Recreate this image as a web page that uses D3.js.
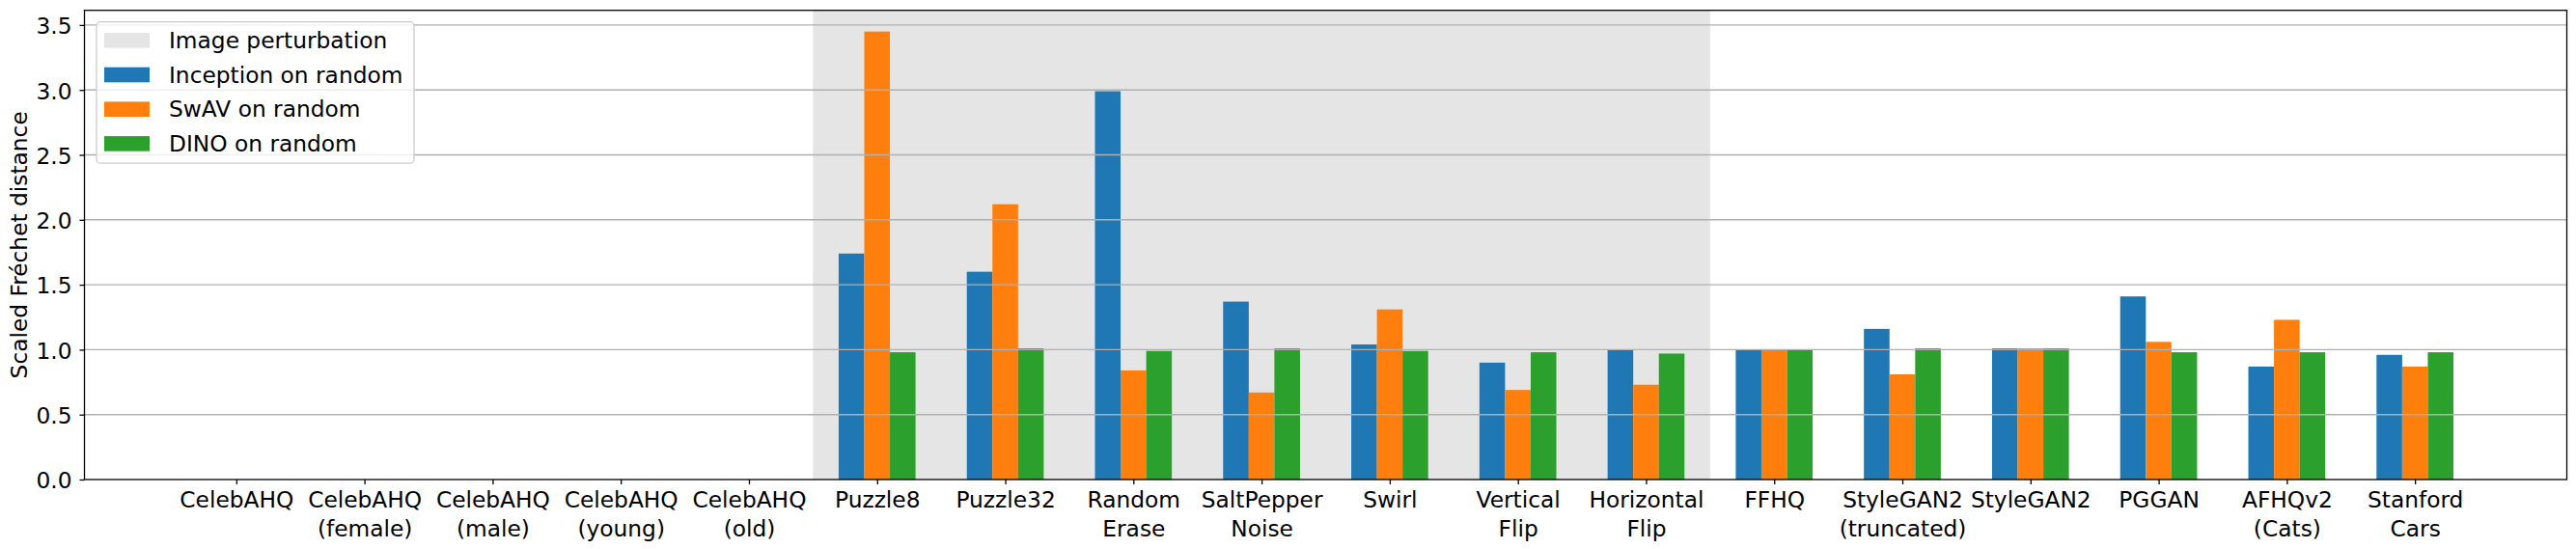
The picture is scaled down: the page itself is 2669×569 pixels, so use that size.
<!DOCTYPE html>
<html>
<head>
<meta charset="utf-8">
<script src="https://cdn.jsdelivr.net/npm/d3@7/dist/d3.min.js"></script>
<style>
  html, body { margin: 0; padding: 0; background: #ffffff; }
  svg { display: block; font-family: "DejaVu Sans", sans-serif; }
</style>
</head>
<body>
<svg id="chart" width="2669" height="569"></svg>
<script>
// ---- data ----
const categories = [
  "CelebAHQ", "CelebAHQ\n(female)", "CelebAHQ\n(male)", "CelebAHQ\n(young)", "CelebAHQ\n(old)",
  "Puzzle8", "Puzzle32", "Random\nErase", "SaltPepper\nNoise", "Swirl", "Vertical\nFlip",
  "Horizontal\nFlip", "FFHQ", "StyleGAN2\n(truncated)", "StyleGAN2", "PGGAN", "AFHQv2\n(Cats)", "Stanford\nCars"
];
const seriesNames = ["Inception on random", "SwAV on random", "DINO on random"];
const inceptionValues = [null, null, null, null, null, 1.74, 1.60, 2.99, 1.37, 1.04, 0.90, 1.00, 1.00, 1.16, 1.01, 1.41, 0.87, 0.96];
const swavValues      = [null, null, null, null, null, 3.45, 2.12, 0.84, 0.67, 1.31, 0.69, 0.73, 1.00, 0.81, 1.01, 1.06, 1.23, 0.87];
const dinoValues      = [null, null, null, null, null, 0.98, 1.01, 0.99, 1.01, 0.99, 0.98, 0.97, 1.00, 1.01, 1.01, 0.98, 0.98, 0.98];
const perturbationSpan = [4.5, 11.5];
const perturbationLabel = "Image perturbation";
const yTicks = [0, 0.5, 1.0, 1.5, 2.0, 2.5, 3.0, 3.5];
const yLabel = "Scaled Fréchet distance";

// ---- layout ----
const colors = ["#1f77b4", "#ff7f0e", "#2ca02c"];
const spanColor = "#e5e5e5";
const pLeft = 87.5, pRight = 2659.5, pTop = 10.7, pBottom = 497;
const barWidth = 0.2;
const fs = 23.3;

const svg = d3.select("#chart");
const x = d3.scaleLinear().domain([-1.185, 18.185]).range([pLeft, pRight]);
const y = d3.scaleLinear().domain([0, 3.613]).range([pBottom, pTop]);

// shaded span
svg.append("rect")
  .attr("x", x(perturbationSpan[0])).attr("y", pTop)
  .attr("width", x(perturbationSpan[1]) - x(perturbationSpan[0]))
  .attr("height", pBottom - pTop)
  .attr("fill", spanColor);

// bars
const allSeries = [inceptionValues, swavValues, dinoValues];
allSeries.forEach((vals, si) => {
  const offset = (si - 1) * barWidth;
  svg.append("g").selectAll("rect")
    .data(vals.map((v, i) => ({ v, i })).filter(d => d.v !== null))
    .join("rect")
    .attr("x", d => x(d.i + offset - barWidth / 2))
    .attr("width", d => x(d.i + offset + barWidth / 2) - x(d.i + offset - barWidth / 2))
    .attr("y", d => y(d.v))
    .attr("height", d => y(0) - y(d.v))
    .attr("fill", colors[si]);
});

// grid lines (drawn above bars)
svg.append("g").selectAll("line")
  .data(yTicks.filter(t => t > 0))
  .join("line")
  .attr("x1", pLeft).attr("x2", pRight)
  .attr("y1", d => y(d)).attr("y2", d => y(d))
  .attr("stroke", "#b0b0b0").attr("stroke-width", 1.4);

// y axis
const yAxis = d3.axisLeft(y).tickValues(yTicks).tickFormat(d3.format(".1f")).tickSize(5).tickPadding(8);
const gy = svg.append("g").attr("transform", `translate(${pLeft},0)`).call(yAxis);
gy.select(".domain").remove();
gy.selectAll(".tick line").attr("stroke", "#000").attr("stroke-width", 1.3);
gy.selectAll(".tick text").attr("font-size", fs).attr("fill", "#000")
  .attr("font-family", "DejaVu Sans").attr("dy", "0.38em");

// x axis
const xAxis = d3.axisBottom(x).tickValues(d3.range(categories.length)).tickFormat(() => "").tickSize(5);
const gx = svg.append("g").attr("transform", `translate(0,${pBottom})`).call(xAxis);
gx.select(".domain").remove();
gx.selectAll(".tick line").attr("stroke", "#000").attr("stroke-width", 1.3);
gx.selectAll(".tick").each(function(d) {
  const t = d3.select(this).append("text")
    .attr("text-anchor", "middle")
    .attr("font-size", fs)
    .attr("fill", "#000")
    .attr("font-family", "DejaVu Sans")
    .attr("y", 29);
  categories[d].split("\n").forEach((line, li) => {
    t.append("tspan").attr("x", 0).attr("dy", li === 0 ? 0 : 29.5).text(line);
  });
});

// frame
svg.append("rect")
  .attr("x", pLeft).attr("y", pTop)
  .attr("width", pRight - pLeft).attr("height", pBottom - pTop)
  .attr("fill", "none").attr("stroke", "#000").attr("stroke-width", 1.3);

// y label
svg.append("text")
  .attr("transform", `translate(28.3,${(pTop + pBottom) / 2}) rotate(-90)`)
  .attr("text-anchor", "middle")
  .attr("font-size", fs)
  .attr("fill", "#000")
  .text(yLabel);

// legend
const legendItems = [
  { label: perturbationLabel, color: spanColor },
  ...seriesNames.map((n, i) => ({ label: n, color: colors[i] }))
];
const lg = svg.append("g");
lg.append("rect")
  .attr("x", 100).attr("y", 22.7).attr("width", 329).attr("height", 146.5)
  .attr("rx", 4).attr("fill", "#ffffff").attr("fill-opacity", 0.8)
  .attr("stroke", "#cccccc").attr("stroke-width", 1.3);
legendItems.forEach((it, i) => {
  const cy = 41.8 + i * 35.7;
  lg.append("rect").attr("x", 108).attr("y", cy - 7.8).attr("width", 47).attr("height", 15.6)
    .attr("fill", it.color);
  lg.append("text").attr("x", 175).attr("y", cy + 8.2)
    .attr("font-size", fs).attr("fill", "#000").text(it.label);
});
</script>
</body>
</html>
